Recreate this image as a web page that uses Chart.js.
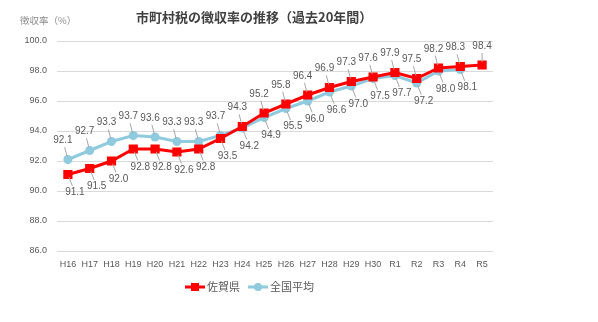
<!DOCTYPE html>
<html>
<head>
<meta charset="utf-8">
<script src="https://cdn.jsdelivr.net/npm/chart.js@4.4.1/dist/chart.umd.min.js"></script>
<style>
  html, body { margin: 0; padding: 0; background: #ffffff; }
  #wrap { position: relative; width: 598px; height: 322px; }
</style>
</head>
<body>
<div id="wrap"><canvas id="chart" width="598" height="322"></canvas></div>
<script>
// Categories (fiscal years)
const years = ['H16', 'H17', 'H18', 'H19', 'H20', 'H21', 'H22', 'H23', 'H24', 'H25',
  'H26', 'H27', 'H28', 'H29', 'H30', 'R1', 'R2', 'R3', 'R4', 'R5'];

// Collection rate (%)
const sagaValues = [91.1, 91.5, 92.0, 92.8, 92.8, 92.6, 92.8, 93.5, 94.3, 95.2,
  95.8, 96.4, 96.9, 97.3, 97.6, 97.9, 97.5, 98.2, 98.3, 98.4];
const nationalValues = [92.1, 92.7, 93.3, 93.7, 93.6, 93.3, 93.3, 93.7, 94.2, 94.9,
  95.5, 96.0, 96.6, 97.0, 97.5, 97.7, 97.2, 98.0, 98.1, null];

const seriesNames = ['佐賀県', '全国平均'];
const chartTitle = '市町村税の徴収率の推移（過去20年間）';
const yAxisTitle = '徴収率（%）';

const RED = '#ff0000';
const BLUE = '#8fcade';
const TEXT = '#595959';
const FONT = '"Liberation Sans", "Noto Sans CJK JP", sans-serif';
const CJK = '"Noto Sans CJK JP", sans-serif';

// Data labels with leader lines, plus title, axis title and legend
const decorPlugin = {
  id: 'decor',
  afterDatasetsDraw(chart) {
    const ctx = chart.ctx;
    const metaRed = chart.getDatasetMeta(0);
    const metaBlue = chart.getDatasetMeta(1);
    ctx.save();
    ctx.font = '10px ' + FONT;
    ctx.textAlign = 'center';
    ctx.textBaseline = 'middle';

    years.forEach((y, i) => {
      const r = sagaValues[i];
      const b = nationalValues[i];
      const items = [];
      if (r != null) items.push({ v: r, el: metaRed.data[i], up: b == null || r >= b, alone: b == null });
      if (b != null) items.push({ v: b, el: metaBlue.data[i], up: r == null || b > r, alone: r == null });
      items.forEach(it => {
        const px = it.el.x, py = it.el.y;
        let dx = it.up ? -5 : 7;
        const dy = it.up ? -19 : 18;
        if (it.alone) dx = 0;
        const lx = px + dx, ly = py + dy;
        // leader line
        const len = Math.hypot(dx, dy);
        const ux = dx / len, uy = dy / len;
        ctx.strokeStyle = '#a6a6a6';
        ctx.lineWidth = 1;
        ctx.beginPath();
        ctx.moveTo(px + ux * 3, py + uy * 3);
        ctx.lineTo(lx - ux * 7, ly - uy * 7);
        ctx.stroke();
        ctx.fillStyle = TEXT;
        ctx.fillText(it.v.toFixed(1), lx, ly);
      });
    });
    ctx.restore();
  },
  afterDraw(chart) {
    const ctx = chart.ctx;
    ctx.save();
    // title
    ctx.fillStyle = '#404040';
    ctx.font = 'bold 13px ' + CJK;
    ctx.textAlign = 'left';
    ctx.textBaseline = 'middle';
    ctx.fillText(chartTitle, 136, 17);
    // y axis title
    ctx.fillStyle = '#8c8c8c';
    ctx.font = '9.5px ' + CJK;
    ctx.fillText(yAxisTitle, 20, 20);
    // legend
    const ly = 287;
    ctx.font = '11px ' + CJK;
    ctx.lineWidth = 3;
    ctx.strokeStyle = RED;
    ctx.beginPath(); ctx.moveTo(185, ly); ctx.lineTo(205, ly); ctx.stroke();
    ctx.fillStyle = RED;
    ctx.fillRect(191, ly - 4, 8, 8);
    ctx.fillStyle = TEXT;
    ctx.fillText(seriesNames[0], 207, ly);
    ctx.strokeStyle = BLUE;
    ctx.beginPath(); ctx.moveTo(248, ly); ctx.lineTo(268, ly); ctx.stroke();
    ctx.fillStyle = BLUE;
    ctx.beginPath(); ctx.arc(258, ly, 4, 0, Math.PI * 2); ctx.fill();
    ctx.fillStyle = TEXT;
    ctx.fillText(seriesNames[1], 270, ly);
    ctx.restore();
  }
};

new Chart(document.getElementById('chart'), {
  type: 'line',
  data: {
    labels: years,
    datasets: [{
      label: seriesNames[0],
      data: sagaValues,
      borderColor: RED,
      backgroundColor: RED,
      borderWidth: 3,
      pointStyle: 'rect',
      pointRadius: 6.5,
      pointBorderWidth: 0,
      pointHoverRadius: 6.5,
      tension: 0
    }, {
      label: seriesNames[1],
      data: nationalValues,
      borderColor: BLUE,
      backgroundColor: BLUE,
      borderWidth: 3,
      pointStyle: 'circle',
      pointRadius: 4.5,
      pointBorderWidth: 0,
      pointHoverRadius: 4.5,
      tension: 0
    }]
  },
  options: {
    responsive: false,
    animation: false,
    layout: { padding: { left: 0, top: 41, right: 105, bottom: 0 } },
    plugins: {
      legend: { display: false },
      tooltip: { enabled: false },
      title: { display: false }
    },
    scales: {
      x: {
        offset: true,
        grid: { display: false, drawTicks: false },
        border: { display: false },
        ticks: { color: TEXT, font: { family: FONT, size: 9 }, padding: 8, maxRotation: 0, autoSkip: false },
        afterFit(scale) { scale.height = 71; }
      },
      y: {
        min: 86,
        max: 100,
        grid: { color: '#d9d9d9', drawTicks: false },
        border: { display: false },
        ticks: {
          stepSize: 2,
          color: TEXT,
          font: { family: FONT, size: 9 },
          padding: 10,
          callback: v => v.toFixed(1)
        },
        afterFit(scale) { scale.width = 57; }
      }
    }
  },
  plugins: [decorPlugin]
});
</script>
</body>
</html>
